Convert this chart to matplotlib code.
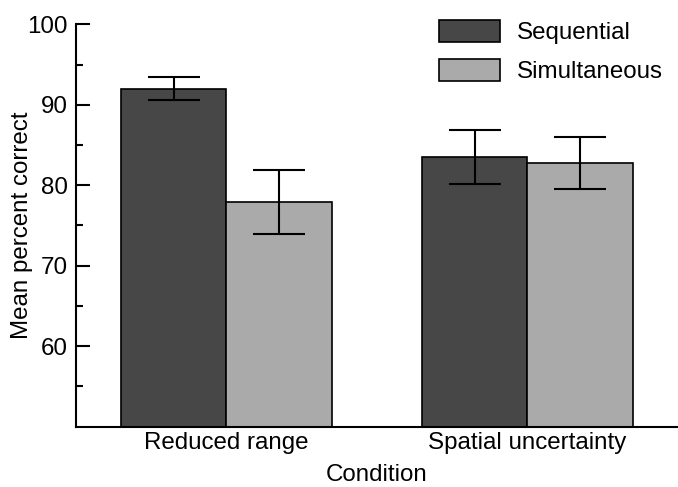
import numpy as np
import matplotlib
matplotlib.use("Agg")
import matplotlib.pyplot as plt

plt.rcParams['font.family'] = ['Liberation Sans', 'DejaVu Sans']

conditions = ["Reduced range", "Spatial uncertainty"]
sequential = [92.0, 83.5]
sequential_err = [1.45, 3.4]
simultaneous = [77.9, 82.75]
simultaneous_err = [4.0, 3.2]

FS = 17.4

fig = plt.figure(figsize=(6.78, 4.87), dpi=100)
ax = fig.add_axes([0.112, 0.124, 0.888, 0.826])

x = np.arange(len(conditions))
w = 0.351
err_kw = dict(ecolor='black', elinewidth=1.5, capsize=18.5, capthick=1.5)
ax.bar(x - w / 2, sequential, w, yerr=sequential_err, color='#474747',
       edgecolor='black', linewidth=1.2, label='Sequential', error_kw=err_kw)
ax.bar(x + w / 2, simultaneous, w, yerr=simultaneous_err, color='#aaaaaa',
       edgecolor='black', linewidth=1.2, label='Simultaneous', error_kw=err_kw)

ax.set_xlim(-0.5, 1.5)
ax.set_ylim(50, 100)
ax.set_yticks([60, 70, 80, 90, 100])
ax.set_yticks([55, 65, 75, 85, 95], minor=True)
ax.set_xticks(x)
ax.set_xticklabels(conditions)

for s in ['top', 'right']:
    ax.spines[s].set_visible(False)
for s in ['left', 'bottom']:
    ax.spines[s].set_linewidth(1.5)

ax.tick_params(axis='y', which='major', direction='in', length=10, width=1.5,
               labelsize=FS, pad=6)
ax.tick_params(axis='y', which='minor', direction='in', length=5, width=1.5)
ax.tick_params(axis='x', length=0, labelsize=FS, pad=4)

ax.set_ylabel("Mean percent correct", fontsize=FS)
ax.yaxis.set_label_coords(-0.072, 0.5)
ax.set_xlabel("Condition", fontsize=FS, labelpad=7)

ax.legend(loc='upper left', bbox_to_anchor=(439 / 678, 1 - 20 / 487),
          bbox_transform=fig.transFigure, frameon=False, fontsize=FS,
          handlelength=2.53, handleheight=1.05, labelspacing=0.6,
          handletextpad=0.7, borderpad=0, borderaxespad=0)

fig.savefig("out.png", dpi=100)
